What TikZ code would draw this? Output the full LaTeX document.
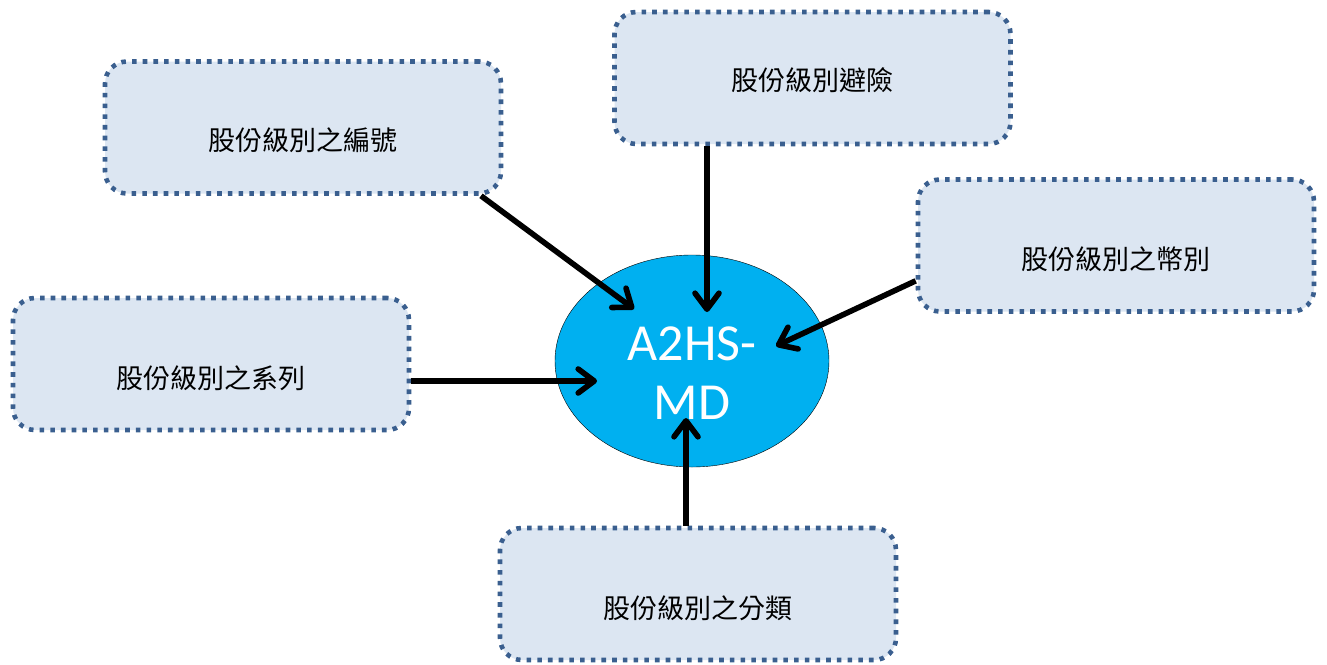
\documentclass[tikz,border=0pt]{standalone}
\usepackage{fontspec}
\newfontfamily\cjk{Noto Sans CJK TC}
\newfontfamily\calibri{Carlito}
\usetikzlibrary{arrows.meta,shapes.geometric}

\definecolor{boxblue}{HTML}{3A5F8F}
\definecolor{boxfill}{HTML}{DCE6F2}
\definecolor{mdcyan}{HTML}{00B0F0}

\tikzset{
  sharebox/.style={draw=boxblue, fill=boxfill, line width=4.6pt,
    dash pattern=on 4.6pt off 6.1pt, rounded corners=22pt,
    minimum width=396pt, minimum height=132pt},
  boxtext/.style={font=\cjk\fontsize{27}{30}\selectfont},
  link/.style={line width=5.6pt, -{Straight Barb[length=16pt,width=24pt,round]}},
}

\begin{document}
\begin{tikzpicture}[x=1pt,y=-1pt]

\useasboundingbox (0,0) rectangle (1327,664);

% the five boxes
\node[sharebox, label={[boxtext,yshift=-13pt]center:股份級別之編號}] (bianhao) at (303,127.5) {};
\node[sharebox, label={[boxtext,yshift=-2pt]center:股份級別避險}] (bixian) at (812.5,78) {};
\node[sharebox, label={[boxtext,yshift=-14pt]center:股份級別之幣別}] (bibie) at (1116,245.5) {};
\node[sharebox, label={[boxtext,yshift=-14pt]center:股份級別之系列}] (xilie) at (211,364) {};
\node[sharebox, label={[boxtext,yshift=-14pt]center:股份級別之分類}] (fenlei) at (698,594) {};

% centre
\node[ellipse, draw=black, thin, fill=mdcyan, inner sep=0pt,
  minimum width=274pt, minimum height=212pt,
  label={[text=white, align=center, font=\calibri\fontsize{52}{59}\selectfont, yshift=-12pt]center:A2HS-\\MD}] (md) at (692,361) {};

\coordinate (tip1) at (634,309);
\coordinate (tip2) at (707,312);
\coordinate (tip3) at (776,346);
\coordinate (tip4) at (597,381);
\coordinate (tip5) at (686,418);

\draw[link] (bianhao.-21) -- (tip1);
\draw[link] (bixian.south -| tip2) -- (tip2);
\draw[link] (bibie.190) -- (tip3);
\draw[link] (xilie.east |- tip4) -- (tip4);
\draw[link] (fenlei.north -| tip5) -- (tip5);

\end{tikzpicture}
\end{document}
